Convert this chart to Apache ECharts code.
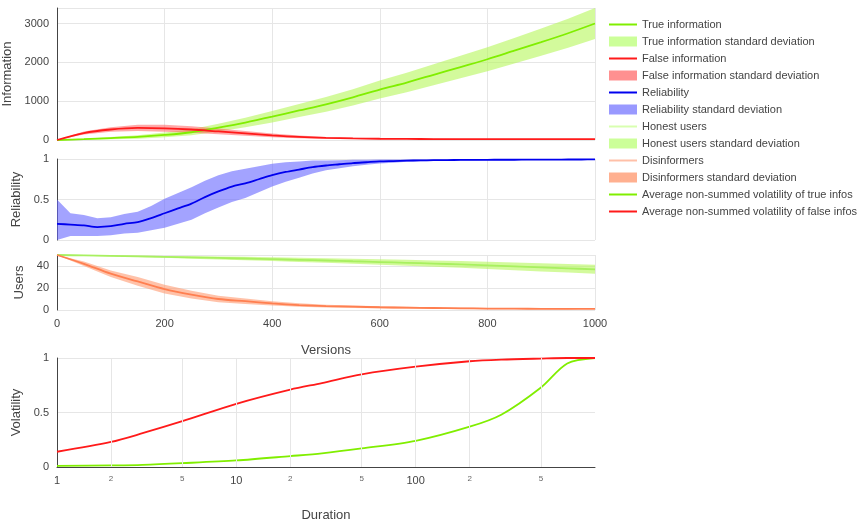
<!DOCTYPE html><html><head><meta charset="utf-8"><script src="https://cdn.jsdelivr.net/npm/echarts@6/dist/echarts.min.js"></script></head><body style="margin:0"><div id="c" style="width:857px;height:525px"></div><script>
const versions=[0,50,100,150,200,250,300,350,400,450,500,550,600,650,700,750,800,850,900,950,1000];
const trueMean=[0,20,50,80,130,200,320,450,600,760,920,1100,1300,1480,1680,1880,2080,2300,2520,2750,3000];
const trueStd=[0,15,30,45,60,80,100,120,150,170,190,210,230,250,270,290,310,330,350,375,400];
const falseMean=[0,180,270,310,300,270,220,170,120,80,55,40,32,28,25,23,22,21,20,20,20];
const falseStd=[0,40,60,80,90,85,75,60,50,35,22,15,10,8,6,5,5,4,4,4,4];
const relVersions=[0,25,50,75,100,125,150,175,200,225,250,275,300,325,350,375,400,425,450,475,500,525,550,575,600,625,650,675,700,725,750,775,800,825,850,875,900,925,950,975,1000];
const relMean=[0.2,0.19,0.18,0.16,0.17,0.2,0.22,0.27,0.33,0.39,0.45,0.53,0.6,0.66,0.7,0.75,0.8,0.84,0.87,0.9,0.92,0.935,0.95,0.96,0.97,0.975,0.98,0.983,0.985,0.987,0.988,0.989,0.99,0.991,0.991,0.992,0.993,0.993,0.994,0.994,0.995];
const relStd=[0.25,0.14,0.13,0.11,0.11,0.12,0.13,0.15,0.18,0.19,0.2,0.2,0.2,0.19,0.18,0.16,0.14,0.12,0.1,0.08,0.06,0.05,0.04,0.03,0.025,0.02,0.015,0.012,0.01,0.008,0.007,0.006,0.006,0.005,0.005,0.004,0.004,0.004,0.003,0.003,0.003];
const honestMean=[50,49.6,49.2,48.8,48.3,47.8,47.3,46.8,46.2,45.6,45,44.3,43.6,42.9,42.2,41.4,40.6,39.7,38.8,37.9,37];
const honestStd=[0,0.3,0.5,0.7,0.9,1.1,1.3,1.5,1.7,1.9,2.1,2.3,2.5,2.7,2.9,3.1,3.3,3.5,3.7,3.9,4.1];
const disMean=[50,42,33,26,19,14,10,8,6,4.5,3.5,3,2.5,2.1,1.8,1.5,1.3,1.2,1.1,1,1];
const disStd=[0,2,3,4,4,3.5,3,2.5,2,1.6,1.3,1.1,1,0.9,0.8,0.7,0.6,0.6,0.5,0.5,0.5];
const durations=[1,2,3,5,10,20,30,50,100,200,300,500,700,1000];
const volFalse=[0.14,0.23,0.31,0.42,0.58,0.71,0.77,0.85,0.92,0.97,0.985,0.995,1,1];
const volTrue=[0.01,0.015,0.02,0.035,0.06,0.1,0.125,0.17,0.24,0.37,0.48,0.73,0.95,1];
const durTicks=[1,2,5,10,20,50,100,200,500];

const F='Liberation Sans';
const G='#80ee00',R='#ff1a1a',B='#0000ee',O='#ff7f50';
const lab={color:'#444',fontSize:11,fontFamily:F};
const series=[];
function band(name,m,s,color,idx,op){
  series.push({type:'line',stack:name,xAxisIndex:idx,yAxisIndex:idx,data:m.map((v,i)=>v-s[i]),symbol:'none',lineStyle:{opacity:0},silent:true});
  series.push({name:name,type:'line',stack:name,xAxisIndex:idx,yAxisIndex:idx,data:s.map(v=>2*v),symbol:'none',lineStyle:{opacity:0},itemStyle:{color:color},areaStyle:{color:color,opacity:op}});
}
function line(name,m,color,idx){
  series.push({name:name,type:'line',xAxisIndex:idx,yAxisIndex:idx,data:m,symbol:'none',smooth:0.3,lineStyle:{color:color,width:1.8},itemStyle:{color:color}});
}
band('True information standard deviation',trueMean,trueStd,'#b5f75a',0,0.6);
line('True information',trueMean,G,0);
band('False information standard deviation',falseMean,falseStd,'#ff6060',0,0.55);
line('False information',falseMean,R,0);
band('Reliability standard deviation',relMean,relStd,'#6666ff',1,0.6);
line('Reliability',relMean,B,1);
band('Honest users standard deviation',honestMean,honestStd,'#b5f75a',2,0.6);
line('Honest users',honestMean,'#a8f060',2);
band('Disinformers standard deviation',disMean,disStd,'#ff9a70',2,0.6);
line('Disinformers',disMean,O,2);
const pair=(xs,ys)=>xs.map((x,i)=>[x,ys[i]]);
series.push({name:'Average non-summed volatility of true infos',type:'line',xAxisIndex:3,yAxisIndex:3,data:pair(durations,volTrue),symbol:'none',smooth:0.3,lineStyle:{color:G,width:1.8},itemStyle:{color:G}});
series.push({name:'Average non-summed volatility of false infos',type:'line',xAxisIndex:3,yAxisIndex:3,data:pair(durations,volFalse),symbol:'none',smooth:0.3,lineStyle:{color:R,width:1.8},itemStyle:{color:R},
  markLine:{symbol:'none',silent:true,label:{show:false},lineStyle:{color:'#e6e6e6',type:'solid',width:1},data:durTicks.slice(1).map(v=>({xAxis:v}))},z:3});

const L='path://M0,0h28v2h-28z';
const legendData=[
 {name:'True information',icon:L,itemStyle:{color:G}},
 {name:'True information standard deviation',icon:'rect',itemStyle:{color:'#ccff99'}},
 {name:'False information',icon:L,itemStyle:{color:R}},
 {name:'False information standard deviation',icon:'rect',itemStyle:{color:'#ff9090'}},
 {name:'Reliability',icon:L,itemStyle:{color:B}},
 {name:'Reliability standard deviation',icon:'rect',itemStyle:{color:'#9999ff'}},
 {name:'Honest users',icon:L,itemStyle:{color:'#d8ffb0'}},
 {name:'Honest users standard deviation',icon:'rect',itemStyle:{color:'#ccff99'}},
 {name:'Disinformers',icon:L,itemStyle:{color:'#ffc0a8'}},
 {name:'Disinformers standard deviation',icon:'rect',itemStyle:{color:'#ffb090'}},
 {name:'Average non-summed volatility of true infos',icon:L,itemStyle:{color:G}},
 {name:'Average non-summed volatility of false infos',icon:L,itemStyle:{color:R}}];
const split={show:true,lineStyle:{color:'#e6e6e6'}};
const axLine={show:true,lineStyle:{color:'#444'}};
const nameStyle={color:'#444',fontSize:13,fontFamily:F};
const cx=(g,data,every,show)=>({type:'category',gridIndex:g,data:data,boundaryGap:false,splitLine:{show:true,interval:every-1,lineStyle:{color:'#e6e6e6'}},axisLine:{show:false},axisTick:{show:false},axisLabel:Object.assign({show:show,interval:every-1},lab)});
const yax=(g,name,max,interval,showMax,gap)=>({type:'value',gridIndex:g,min:0,max:max,interval:interval,name:name,nameLocation:'middle',nameGap:gap,nameTextStyle:nameStyle,splitLine:split,axisLine:axLine,axisTick:{show:false},axisLabel:Object.assign({showMaxLabel:showMax,formatter:v=>String(v)},lab)});
const x2=cx(2,versions,4,true);x2.name='Versions';x2.nameLocation='middle';x2.nameGap=34;x2.nameTextStyle=nameStyle;
const gr=(top,h)=>({left:57,width:538,top:top,height:h,outerBoundsMode:'none',containLabel:false});
const chart=echarts.init(document.getElementById('c'));
chart.setOption({animation:false,
 legend:{orient:'vertical',left:604,top:14,itemWidth:28,itemHeight:10,itemGap:6,textStyle:{color:'#444',fontSize:11,fontFamily:F},data:legendData,selectedMode:false},
 grid:[gr(8,132),gr(159,81),gr(255,55),gr(358,109)],
 xAxis:[cx(0,versions,4,false),cx(1,relVersions,8,false),x2,
  {type:'log',logBase:10,min:1,max:1000,gridIndex:3,name:'Duration',nameLocation:'middle',nameGap:42,nameTextStyle:nameStyle,
   axisLine:axLine,axisTick:{show:false},splitLine:{show:false},
   axisLabel:Object.assign({customValues:durTicks,formatter:v=>{const d=String(Math.round(v));return (d[0]==='1')?d:'{s|'+d[0]+'}';},rich:{s:{fontSize:8,color:'#666'}}},lab)}],
 yAxis:[yax(0,'Information',3400,1000,false,27),yax(1,'Reliability',1,0.5,true,32),yax(2,'Users',50,20,false,31),yax(3,'Volatility',1,0.5,true,32)],
 series:series
});
</script></body></html>
